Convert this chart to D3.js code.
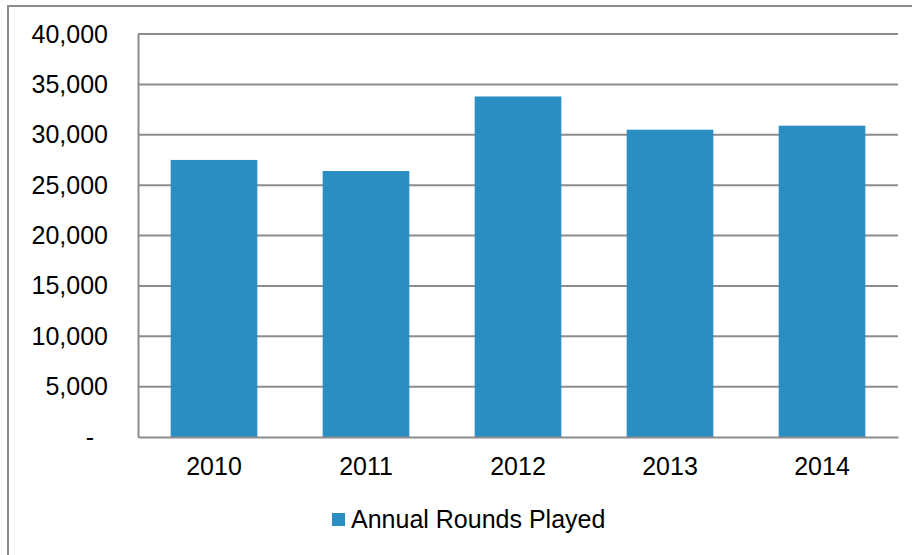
<!DOCTYPE html>
<html>
<head>
<meta charset="utf-8">
<script src="https://cdn.jsdelivr.net/npm/d3@7"></script>
<style>
  body { margin: 0; background: #fff; }
  svg { display: block; font-family: "Liberation Sans", Arial, sans-serif; }
</style>
</head>
<body>
<div id="chart"></div>
<script>
// Datos
const years = ["2010", "2011", "2012", "2013", "2014"]
const rounds = [27500, 26400, 33800, 30500, 30900]
const yTicks = [0, 5000, 10000, 15000, 20000, 25000, 30000, 35000, 40000]
const seriesName = "Annual Rounds Played"

const width = 912, height = 555
const margin = { top: 34, right: 14, bottom: 118, left: 138 }
const chartWidth = width - margin.left - margin.right
const chartHeight = height - margin.top - margin.bottom
const barColor = "#2a8ec3"
const lineColor = "#8c8c8c"
const fontSize = "25px"

const svg = d3.select("#chart")
    .append("svg")
    .attr("width", width)
    .attr("height", height)
    .attr("viewBox", [0, 0, width, height])

// borde exterior
svg.append("rect")
    .attr("x", 8).attr("y", 6)
    .attr("width", 940).attr("height", 600)
    .attr("fill", "none")
    .attr("stroke", lineColor)
    .attr("stroke-width", 2)

const g = svg.append("g")
    .attr("transform", `translate(${margin.left},${margin.top})`)

const xScale = d3.scaleBand()
    .domain(years)
    .range([0, chartWidth])
    .paddingInner(0.43)
    .paddingOuter(0.215)

const yScale = d3.scaleLinear()
    .domain([0, 40000])
    .range([chartHeight, 0])

// líneas de cuadrícula
g.append("g")
    .selectAll("line")
    .data(yTicks.filter(d => d > 0))
    .join("line")
    .attr("x1", 0)
    .attr("x2", chartWidth)
    .attr("y1", d => yScale(d))
    .attr("y2", d => yScale(d))
    .attr("stroke", lineColor)
    .attr("stroke-width", 2)

// barras
g.selectAll("rect.bar")
    .data(rounds)
    .join("rect")
    .attr("class", "bar")
    .attr("x", (d, i) => xScale(years[i]))
    .attr("y", d => yScale(d))
    .attr("width", xScale.bandwidth())
    .attr("height", d => chartHeight - yScale(d))
    .attr("fill", barColor)

// Eje Y
g.append("g")
    .call(d3.axisLeft(yScale)
        .tickValues(yTicks)
        .tickSize(0)
        .tickPadding(30)
        .tickFormat(d => d === 0 ? "-" : d3.format(",")(d)))
    .call(g => g.select(".domain").attr("stroke", lineColor).attr("stroke-width", 2))
    .call(g => g.selectAll(".tick text")
        .attr("fill", "#000")
        .style("font-size", fontSize)
        .attr("font-family", null)
        .attr("dx", d => d === 0 ? -14 : 0))

// Eje X
g.append("g")
    .attr("transform", `translate(0,${chartHeight})`)
    .call(d3.axisBottom(xScale).tickSize(0).tickPadding(20))
    .call(g => g.select(".domain").attr("stroke", lineColor).attr("stroke-width", 2))
    .call(g => g.selectAll(".tick text")
        .attr("fill", "#000")
        .style("font-size", fontSize)
        .attr("font-family", null))

// leyenda
const legend = svg.append("g").attr("transform", "translate(332,513)")
legend.append("rect")
    .attr("width", 13).attr("height", 13)
    .attr("fill", barColor)
legend.append("text")
    .attr("x", 19)
    .attr("y", 15)
    .attr("fill", "#000")
    .style("font-size", fontSize)
    .text(seriesName)
</script>
</body>
</html>
